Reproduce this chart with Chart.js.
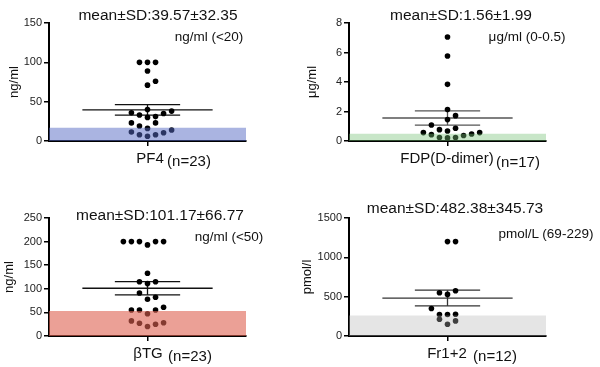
<!DOCTYPE html>
<html>
<head>
<meta charset="utf-8">
<script src="https://cdn.jsdelivr.net/npm/chart.js@4"></script>
<style>
  body { margin: 0; background: #fff; }
  #wrap { position: relative; width: 600px; height: 367px; font-family: "Liberation Sans", Arial, sans-serif; color: #111; }
  canvas { position: absolute; }
  .t { position: absolute; transform: translate(-50%, -50%); white-space: nowrap; }
  .ttl { font-size: 15.5px; }
  .ref { font-size: 13.5px; }
  .lab { font-size: 15px; }
</style>
</head>
<body>
<div id="wrap">
  <canvas id="cPf4" width="300" height="180" style="left:0;top:0"></canvas>
  <canvas id="cFdp" width="300" height="180" style="left:300px;top:0"></canvas>
  <canvas id="cBtg" width="300" height="187" style="left:0;top:180px"></canvas>
  <canvas id="cFr" width="300" height="187" style="left:300px;top:180px"></canvas>

  <div class="t ttl" style="left:158px;top:15px">mean±SD:39.57±32.35</div>
  <div class="t ref" style="left:209px;top:36px">ng/ml (&lt;20)</div>
  <div class="t lab" style="left:150px;top:157px">PF4</div>
  <div class="t lab" style="left:189px;top:160px">(n=23)</div>

  <div class="t ttl" style="left:461px;top:15px">mean±SD:1.56±1.99</div>
  <div class="t ref" style="left:527px;top:36px">μg/ml (0-0.5)</div>
  <div class="t lab" style="left:447px;top:157px">FDP(D-dimer)</div>
  <div class="t lab" style="left:518px;top:161px">(n=17)</div>

  <div class="t ttl" style="left:160px;top:215px">mean±SD:101.17±66.77</div>
  <div class="t ref" style="left:229px;top:236px">ng/ml (&lt;50)</div>
  <div class="t lab" style="left:148px;top:352px">βTG</div>
  <div class="t lab" style="left:190px;top:355px">(n=23)</div>

  <div class="t ttl" style="left:455px;top:208px">mean±SD:482.38±345.73</div>
  <div class="t ref" style="left:546px;top:233px">pmol/L (69-229)</div>
  <div class="t lab" style="left:447px;top:352px">Fr1+2</div>
  <div class="t lab" style="left:495px;top:355px">(n=12)</div>
</div>
<script>
// valeurs, slot = position horizontale du point (colonne)
var pf4Values = [100, 100, 100, 89, 76, 71, 36, 33, 40, 30, 31, 35, 38, 23, 19, 16, 23, 11.5, 8, 6, 8, 10.5, 14];
var pf4Slots  = [-1, 0, 1, 0, 1, 0, -2, -1, 0, 0, 1, 2, 3, -2, -1, 0, 1, -2, -1, 0, 1, 2, 3];
var pf4Stats  = [39.57, 32.35, 23];   // moyenne, SD, n
var pf4Ref    = 17;

var fdpValues = [7.05, 5.76, 3.84, 2.13, 1.72, 1.45, 1.08, 0.86, 0.77, 0.68, 0.57, 0.43, 0.23, 0.21, 0.23, 0.37, 0.47, 0.57];
var fdpSlots  = [0, 0, 0, 0, 1, 0, -2, 1, -1, 0, -3, -2, -1, 0, 1, 2, 3, 4];
var fdpStats  = [1.56, 1.99, 17];
var fdpRef    = 0.5;

var btgValues = [200, 200, 200, 193, 200, 200, 133, 115, 111, 115, 91, 78, 82, 55, 55, 47, 55, 61, 32, 27, 20, 25, 28];
var btgSlots  = [-3, -2, -1, 0, 1, 2, 0, -1, 0, 1, -1, 0, 1, -2, -1, 0, 1, 2, -2, -1, 0, 1, 2];
var btgStats  = [101.17, 66.77, 23];
var btgRef    = 53;

var frValues = [1200, 1200, 549, 575, 529, 350, 274, 274, 276, 213, 192, 150];
var frSlots  = [0, 1, -1, 1, 0, -2, -1, 0, 1, -1, 1, 0];
var frStats  = [482.38, 345.73, 12];
var frRef    = 260;

var fontFam = '"Liberation Sans", Arial, sans-serif';

function makePanel(id, values, slots, stats, ref, yMax, yStep, unit, band, lineColor, padTop, xHeight, titlePad) {
    var mean = stats[0];
    var sem = stats[1] / Math.sqrt(stats[2]);
    var seg = function (x1, x2, y1, y2) { return [{x: x1, y: y1}, {x: x2, y: y2}]; };
    var trait = function (data) {
        return {type: 'line', data: data, borderColor: lineColor, borderWidth: 1.3, pointRadius: 0, fill: false, order: 2};
    };
    var pts = values.map(function (v, i) { return {x: slots[i], y: v}; });

    return new Chart(document.getElementById(id), {
        type: 'scatter',
        data: {
            datasets: [
                {type: 'line', data: seg(-12.25, 12.25, ref, ref), fill: 'origin', backgroundColor: band, borderWidth: 0, pointRadius: 0, order: 0},
                {data: pts, backgroundColor: '#000', borderWidth: 0, pointRadius: 2.8, order: 1},
                trait(seg(-8.1, 8.1, mean, mean)),
                trait(seg(-4.06, 4.06, mean + sem, mean + sem)),
                trait(seg(-4.06, 4.06, mean - sem, mean - sem)),
                trait(seg(0, 0, mean - sem, mean + sem))
            ]
        },
        options: {
            responsive: false,
            animation: false,
            events: [],
            layout: {padding: {top: padTop, right: 54, left: 0, bottom: 0}},
            plugins: {legend: {display: false}, tooltip: {enabled: false}},
            scales: {
                x: {
                    type: 'linear', min: -12.25, max: 12.25,
                    afterBuildTicks: function (s) { s.ticks = [{value: 0}]; },
                    afterFit: function (s) { s.height = xHeight; },
                    ticks: {display: false},
                    grid: {drawOnChartArea: false, drawTicks: true, tickLength: 5, color: '#000', lineWidth: 1.5},
                    border: {color: '#000', width: 2}
                },
                y: {
                    min: 0, max: yMax,
                    afterFit: function (s) { s.width = 49; },
                    ticks: {stepSize: yStep, color: '#222', padding: 2, font: {size: 11, family: fontFam},
                            callback: function (v) { return String(v); }},
                    grid: {drawOnChartArea: false, drawTicks: true, tickLength: 5, color: '#000', lineWidth: 1.5},
                    border: {color: '#000', width: 2},
                    title: {display: true, text: unit, color: '#111', font: {size: 13, family: fontFam}, padding: {top: titlePad, bottom: 0}}
                }
            }
        }
    });
}

makePanel('cPf4', pf4Values, pf4Slots, pf4Stats, pf4Ref, 150, 50, 'ng/ml', 'rgba(85,105,195,0.5)', '#111', 23, 39, 7);
makePanel('cFdp', fdpValues, fdpSlots, fdpStats, fdpRef, 8, 2, 'μg/ml', 'rgba(117,192,117,0.4)', '#555', 23, 39, 5);
makePanel('cBtg', btgValues, btgSlots, btgStats, btgRef, 250, 50, 'ng/ml', 'rgba(222,97,80,0.6)', '#111', 38, 31, 2);
makePanel('cFr', frValues, frSlots, frStats, frRef, 1500, 500, 'pmol/l', 'rgba(180,180,180,0.35)', '#333', 38, 31, 0);
</script>
</body>
</html>
